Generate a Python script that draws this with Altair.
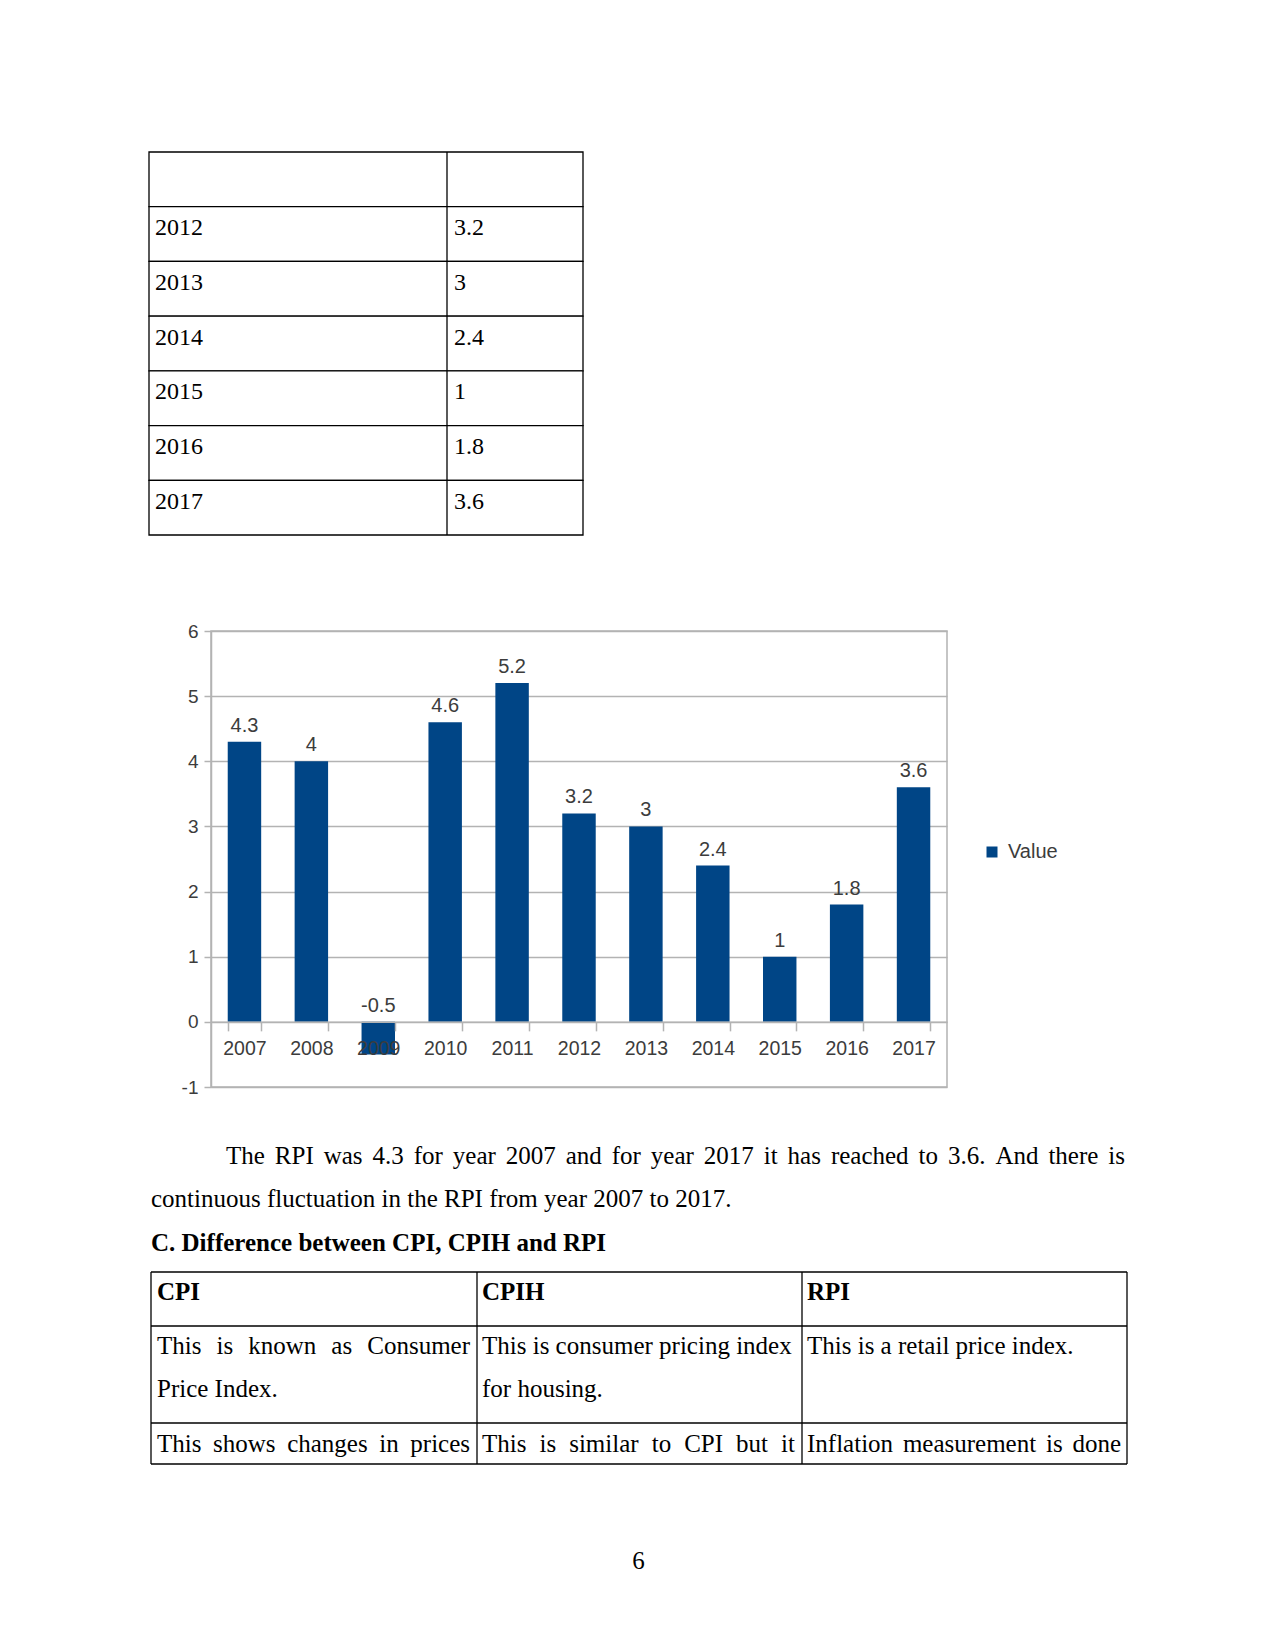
import altair as alt
import pandas as pd

# ---------------- data ----------------
years = ["2007", "2008", "2009", "2010", "2011", "2012", "2013", "2014", "2015", "2016", "2017"]
rpi = [4.3, 4.0, -0.5, 4.6, 5.2, 3.2, 3.0, 2.4, 1.0, 1.8, 3.6]
series_name = "Value"
y_ticks = [-1, 0, 1, 2, 3, 4, 5, 6]

table_years = ["2012", "2013", "2014", "2015", "2016", "2017"]
table_values = ["3.2", "3", "2.4", "1", "1.8", "3.6"]

para_line1 = "The RPI was 4.3 for year 2007 and for year 2017 it has reached to 3.6. And there is"
para_line2 = "continuous fluctuation in the RPI from year 2007 to 2017."
heading = "C. Difference between CPI, CPIH and RPI"
t2_headers = ["CPI", "CPIH", "RPI"]
t2_row1 = [["This is known as Consumer", "Price Index."],
           ["This is consumer pricing index", "for housing."],
           ["This is a retail price index."]]
t2_row1_justified = [[True, False], [False, False], [False]]
t2_row2 = ["This shows changes in prices", "This is similar to CPI but it", "Inflation measurement is done"]
page_number = "6"

# ---------------- styles ----------------
SERIF = "Liberation Serif"
SANS = "Liberation Sans"
GRAY = "#b3b3b3"
TXT = "#3c3c3c"
BLUE = "#004586"
ONE = pd.DataFrame({"s": [0]})
OX = 62  # page text column starts this far left of the chart's plot area
DY_C = 1  # vertical nudge of the lower text section

# approximate Times/Liberation Serif advance widths (per 1000 em), used only for justification
_W = {" ": 250, ".": 250, ",": 250, "-": 333}
_W.update({c: 500 for c in "0123456789"})
_W.update(dict(zip("abcdefghijklmnopqrstuvwxyz",
                   [444, 500, 444, 500, 444, 333, 500, 500, 278, 278, 500, 278, 778, 500, 500,
                    500, 500, 333, 389, 278, 500, 500, 722, 500, 500, 444])))
_W.update(dict(zip("ABCDEFGHIJKLMNOPQRSTUVWXYZ",
                   [722, 667, 667, 722, 611, 556, 722, 722, 333, 389, 722, 611, 889, 722, 722,
                    556, 722, 667, 556, 611, 722, 722, 944, 722, 722, 611])))


def word_width(w, size):
    return sum(_W.get(c, 500) for c in w) * size / 1000.0


def spacer(w, h):
    return alt.Chart(ONE).mark_point(opacity=0, size=1).encode(
        x=alt.value(1), y=alt.value(1)).properties(width=w, height=h)


def txt(s, x, y, size=25, bold=False, align="left"):
    return alt.Chart(pd.DataFrame({"t": [s]})).mark_text(
        align=align, baseline="alphabetic", font=SERIF, fontSize=size,
        fontWeight="bold" if bold else "normal", color="black"
    ).encode(x=alt.value(x - OX), y=alt.value(y + DY_C), text="t:N")


def justified(s, x1, x2, y, size=25):
    words = s.split()
    widths = [word_width(w, size) for w in words]
    gap = (x2 - x1 - sum(widths)) / (len(words) - 1)
    xs, cur = [], x1
    for w in widths:
        xs.append(cur - OX)
        cur += w + gap
    df = pd.DataFrame({"t": words, "px": xs})
    return alt.Chart(df).mark_text(
        align="left", baseline="alphabetic", font=SERIF, fontSize=size, color="black"
    ).encode(x=alt.X("px:Q", scale=None), y=alt.value(y + DY_C), text="t:N")


def hrule(x1, x2, y):
    return alt.Chart(ONE).mark_rule(color="black", strokeWidth=1.3).encode(
        x=alt.value(x1 - OX), x2=alt.value(x2 - OX), y=alt.value(y + DY_C))


def vrule(x, y1, y2, dy=DY_C):
    return alt.Chart(ONE).mark_rule(color="black", strokeWidth=1.3).encode(
        x=alt.value(x - OX), y=alt.value(y1 + dy), y2=alt.value(y2 + dy))


# ---------------- table 1 ----------------
T1_W, T1_H, T1_COL = 434, 383, 298
row_keys = ["r%d" % i for i in range(len(table_years) + 1)]
t1 = pd.DataFrame({"row": row_keys, "year": [""] + table_years, "val": [""] + table_values})
ry = alt.Y("row:N", sort=row_keys, axis=None, title=None,
           scale=alt.Scale(paddingInner=0, paddingOuter=0))
t1_cells = alt.Chart(t1).mark_rect(fill="white", stroke="black", strokeWidth=1.3).encode(
    x=alt.value(-OX), x2=alt.value(T1_W - OX), y=ry)
t1_div = vrule(T1_COL, 0, T1_H, dy=0)
t1_year = alt.Chart(t1).mark_text(align="left", baseline="alphabetic", dy=1, font=SERIF,
                                  fontSize=24, color="black").encode(
    x=alt.value(6 - OX), y=ry, text="year:N")
t1_val = alt.Chart(t1).mark_text(align="left", baseline="alphabetic", dy=1, font=SERIF,
                                 fontSize=24, color="black").encode(
    x=alt.value(T1_COL + 7 - OX), y=ry, text="val:N")
table1 = alt.layer(t1_cells, t1_div, t1_year, t1_val).properties(width=T1_W - OX, height=T1_H)

# ---------------- bar chart ----------------
W, H = 736, 456
ymin, ymax = y_ticks[0], y_ticks[-1]
zero_offset = -H * (0 - ymin) / (ymax - ymin)
bars_df = pd.DataFrame({"year": years, "rpi": rpi,
                        "label": [f"{v:g}" for v in rpi], "series": series_name})

xenc = alt.X("year:N", sort=years, title=None,
             scale=alt.Scale(paddingInner=0.5, paddingOuter=0.25),
             axis=alt.Axis(labelAngle=0, offset=zero_offset, tickBand="extent",
                           domainColor=GRAY, domainWidth=1.5, tickColor=GRAY, tickWidth=1.5,
                           tickSize=9, labelFont=SANS, labelFontSize=19.5, labelColor=TXT,
                           labelPadding=9, zindex=1))
yscale = alt.Scale(domain=[ymin, ymax], nice=False)
yaxis = alt.Axis(values=y_ticks, labelExpr="'' + datum.value", grid=True, gridColor=GRAY,
                 gridWidth=1.5, domainColor=GRAY, domainWidth=1.5, tickColor=GRAY,
                 tickWidth=1.5, tickSize=7, labelFont=SANS, labelFontSize=19,
                 labelColor=TXT, labelPadding=6)

bars = alt.Chart(bars_df).mark_bar().encode(
    x=xenc,
    y=alt.Y("rpi:Q", scale=yscale, axis=yaxis, title=None),
    y2=alt.datum(0),
    color=alt.Color("series:N", scale=alt.Scale(range=[BLUE]),
                    legend=alt.Legend(title=None, orient="none", legendX=771, legendY=690,
                                      symbolType="square", symbolSize=121,
                                      symbolStrokeWidth=0, labelFont=SANS,
                                      labelFontSize=20, labelColor=TXT, labelOffset=6,
                                      padding=0)),
)
labels = alt.Chart(bars_df).transform_calculate(ly="max(datum.rpi, 0)").mark_text(
    baseline="alphabetic", dy=-10, font=SANS, fontSize=20, color=TXT
).encode(
    x=xenc,
    y=alt.Y("ly:Q", scale=yscale, axis=yaxis, title=None),
    text="label:N",
)
bar_chart = alt.layer(bars, labels).properties(
    width=W, height=H, view=alt.ViewBackground(stroke=GRAY, strokeWidth=1.5))

# ---------------- text + table 2 (page coordinates relative to section top) ----------------
L, M1, M2, R = 2, 328, 653, 978
TOP, RL1, RL2, BOT = 184, 238, 335, 376
col_x = [L + 6, M1 + 5, M2 + 5]
col_r = [M1 - 7, M2 - 7, R - 6]
layers = [
    justified(para_line1, 77, 976, 76),
    txt(para_line2, 2, 119),
    txt(heading, 2, 163, bold=True),
    hrule(L, R, TOP), hrule(L, R, RL1), hrule(L, R, RL2), hrule(L, R, BOT),
    vrule(L, TOP, BOT), vrule(M1, TOP, BOT), vrule(M2, TOP, BOT), vrule(R, TOP, BOT),
]
for i, h in enumerate(t2_headers):
    layers.append(txt(h, col_x[i], 212, bold=True))
for i, lines in enumerate(t2_row1):
    for j, ln in enumerate(lines):
        if t2_row1_justified[i][j]:
            layers.append(justified(ln, col_x[i], col_r[i], 266 + 43 * j))
        else:
            layers.append(txt(ln, col_x[i], 266 + 43 * j))
for i, ln in enumerate(t2_row2):
    layers.append(justified(ln, col_x[i], col_r[i], 364))
layers.append(txt(page_number, 489.5, 481, align="center"))
section_c = alt.layer(*layers).properties(width=980 - OX, height=500)

# ---------------- page ----------------
chart = alt.vconcat(
    table1,
    spacer(10, 96),
    bar_chart,
    section_c,
    spacing=0, bounds="flush",
).properties(
    padding={"left": 147, "top": 150, "right": 0, "bottom": 0}
).configure_view(stroke="transparent")

chart.save("out.html", embed_options={"renderer": "svg", "actions": False})
